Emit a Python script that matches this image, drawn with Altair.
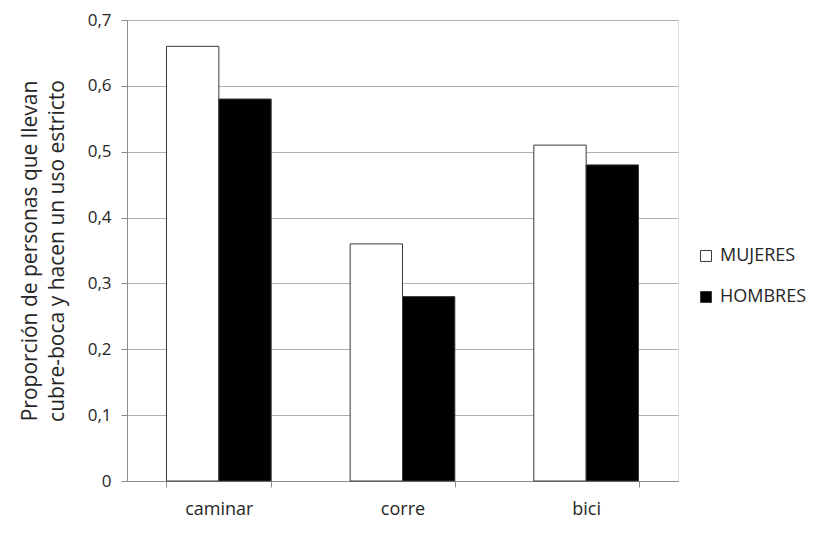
import altair as alt
import pandas as pd

# Categories, series and values
actividades = ["caminar", "corre", "bici"]
grupos = ["MUJERES", "HOMBRES"]
mujeres = [0.66, 0.36, 0.51]
hombres = [0.58, 0.28, 0.48]

rows = []
for i, act in enumerate(actividades):
    rows.append({"actividad": act, "grupo": "MUJERES", "valor": mujeres[i]})
    rows.append({"actividad": act, "grupo": "HOMBRES", "valor": hombres[i]})
df = pd.DataFrame(rows)

font = "Open Sans"
text_color = "#262626"

chart = (
    alt.Chart(df)
    .mark_bar(stroke="#3a3a3a", strokeWidth=1)
    .encode(
        x=alt.X(
            "actividad:N",
            sort=actividades,
            scale=alt.Scale(paddingInner=0.43, paddingOuter=0.215),
            axis=alt.Axis(
                title=None,
                labelAngle=0,
                tickBand="extent",
                tickSize=6,
                labelPadding=13,
                labelFontSize=18,
                labelFont=font,
                labelColor=text_color,
                domainColor="#8c8c8c",
                tickColor="#8c8c8c",
                grid=False,
            ),
        ),
        xOffset=alt.XOffset("grupo:N", sort=grupos, scale=alt.Scale(paddingInner=0, paddingOuter=0)),
        y=alt.Y(
            "valor:Q",
            scale=alt.Scale(domain=[0, 0.7], nice=False),
            axis=alt.Axis(
                values=[0, 0.1, 0.2, 0.3, 0.4, 0.5, 0.6, 0.7],
                labelExpr="datum.value == 0 ? '0' : replace(format(datum.value, '.1f'), '.', ',')",
                title=["Proporción de personas que llevan", "cubre-boca y hacen un uso estricto"],
                titleFont=font,
                titleFontSize=21,
                titleFontWeight="normal",
                titleColor=text_color,
                titlePadding=20,
                titleLineHeight=27,
                labelFontSize=17,
                labelFont=font,
                labelColor=text_color,
                labelPadding=10,
                tickSize=6,
                domainColor="#8c8c8c",
                tickColor="#8c8c8c",
                gridColor="#b0b0b0",
                gridWidth=1,
            ),
        ),
        fill=alt.Color(
            "grupo:N",
            sort=grupos,
            scale=alt.Scale(domain=grupos, range=["#ffffff", "#000000"]),
            legend=alt.Legend(
                title=None,
                orient="none",
                legendX=570,
                legendY=227,
                symbolType="square",
                symbolSize=120,
                symbolStrokeColor="#3a3a3a",
                symbolStrokeWidth=1,
                symbolOpacity=1,
                labelFont=font,
                labelFontSize=18,
                labelColor=text_color,
                rowPadding=23,
                labelOffset=5,
            ),
        ),
    )
    .properties(
        width=551,
        height=461,
        autosize=alt.AutoSizeParams(type="none"),
        padding={"left": 127, "top": 20, "right": 161, "bottom": 53},
    )
    .configure_view(stroke=None)
    .configure(background="white")
)

chart.save("out.html", embed_options={"renderer": "svg", "actions": False})
